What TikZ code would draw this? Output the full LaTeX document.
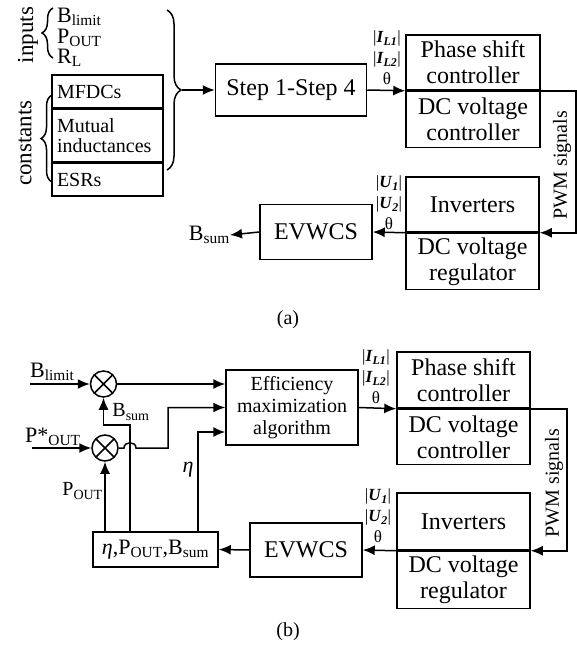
\documentclass[tikz,border=0pt]{standalone}
\usepackage{fontspec}
\setmainfont{Liberation Serif}
\usetikzlibrary{arrows.meta, decorations.pathreplacing, positioning, calc}
\newcommand{\magI}[1]{|\textbf{\textit{I}\textsubscript{\textit{#1}}}|}
\newcommand{\magU}[1]{|\textbf{\textit{U}\textsubscript{\textit{#1}}}|}
\tikzset{
  % blocchi
  blk/.style={draw,line width=1.5pt,inner sep=0pt,align=center,font=\fontsize{24}{26}\selectfont},
  cblk/.style={draw,line width=1.5pt,minimum width=111pt,text width=101pt,align=left,
    inner xsep=5pt,inner ysep=0pt,font=\fontsize{20}{20}\selectfont},
  mixer/.style={circle,draw,line width=1.5pt,minimum size=26pt,inner sep=0pt,
    path picture={\draw[line width=1.5pt] (path picture bounding box.north west) -- (path picture bounding box.south east)
      (path picture bounding box.north east) -- (path picture bounding box.south west);}},
  % etichette
  lbl/.style={inner sep=0pt,font=\fontsize{22}{24}\selectfont},
  slbl/.style={inner sep=0pt,align=center,font=\fontsize{17}{21}\selectfont},
  % connessioni
  conn/.style={line width=1.5pt,-{Latex[length=12pt,width=10pt]}},
  midline/.style={line width=3pt},
  bracket/.style={line width=1.5pt,decorate,decoration={brace,amplitude=#1}}
}
\begin{document}
\begin{tikzpicture}[x=1pt,y=-1pt]
  \useasboundingbox (0,0) rectangle (576,648);
  % ---------- (a) ----------
  \node[lbl,font=\fontsize{23}{24}\selectfont,rotate=90] (inp) at (28,35) {inputs};
  \node[lbl,font=\fontsize{23}{24}\selectfont,rotate=90] (cst) at (25,143) {constants};
  \draw[bracket=11pt] (53,58) -- (53,8);
  \draw[bracket=11pt] (52,182) -- (52,95);
  \node[lbl,anchor=base west] (blima) at (57,22) {B\textsubscript{limit}};
  \node[lbl,anchor=base west] (pouta) at (57,43) {P\textsubscript{OUT}};
  \node[lbl,anchor=base west] (rla) at (57,63) {R\textsubscript{L}};
  \node[cblk,minimum height=33pt] (mfdc) at (107.5,91.5) {MFDCs};
  \node[cblk,minimum height=52pt,below=0pt of mfdc] (mutual) {Mutual\\inductances};
  \node[cblk,minimum height=33pt,below=0pt of mutual] (esr) {ESRs};
  \draw[bracket=14pt] (167,10) -- (167,170);
  \coordinate (btip) at (182,90);
  \node[blk,minimum width=151pt,minimum height=52pt] (step) at (291,90) {Step 1-Step 4};
  \node[blk,minimum width=134pt,minimum height=55pt] (psa) at (473,62.5) {Phase shift\\controller};
  \node[blk,minimum width=134pt,minimum height=56pt,below=0pt of psa] (dca) {DC voltage\\controller};
  \draw[midline] (psa.south west) -- (psa.south east);
  \node[blk,minimum width=133pt,minimum height=55pt] (inva) at (472.5,204.5) {Inverters};
  \node[blk,minimum width=133pt,minimum height=56pt,below=0pt of inva] (dcra) {DC voltage\\regulator};
  \draw[midline] (inva.south west) -- (inva.south east);
  \node[blk,minimum width=112pt,minimum height=55pt] (evwa) at (316,232) {EVWCS};
  \node[lbl,anchor=east] (bsuma) at (230,235) {B\textsubscript{sum}};
  \node[slbl] (ila) at (387,58) {\magI{L1}\\\magI{L2}\\θ};
  \node[slbl] (ula) at (389,203) {\magU{1}\\\magU{2}\\θ};
  \node[lbl,font=\fontsize{20}{22}\selectfont,rotate=90] (pwma) at (562,165) {PWM signals};
  \draw[conn] (btip) -- (step.west);
  \draw[conn] (step.east) -- (psa.south west);
  \draw[conn] (psa.south east) -- ++(35,0) |- (inva.south east);
  \draw[conn] (inva.south west) -- (evwa.east);
  \draw[conn] (evwa.west) -- (bsuma.east);
  \node[font=\fontsize{20}{22}\selectfont] (capa) at (288,320) {(a)};
  % ---------- (b) ----------
  \node[mixer] (mx1) at (103.5,384) {};
  \node[mixer] (mx2) at (105,448) {};
  \node[lbl,anchor=base west] (blimb) at (30,377) {B\textsubscript{limit}};
  \node[lbl,anchor=base west] (pstar) at (25,442) {P*\textsubscript{OUT}};
  \coordinate (blin) at (30,384);
  \coordinate (pin) at (32,448);
  \node[blk,minimum width=132pt,minimum height=75pt,font=\fontsize{20}{22}\selectfont] (ema) at (292,407.5)
    {Efficiency\\maximization\\algorithm};
  \node[blk,minimum width=125pt,minimum height=35pt,font=\fontsize{22}{24}\selectfont] (ebox) at (155.5,549.5)
    {\textit{η},P\textsubscript{OUT},B\textsubscript{sum}};
  \coordinate (pout) at (105,532);
  \coordinate (bsout) at (130,532);
  \coordinate (etaout) at (198,532);
  \node[lbl,font=\fontsize{20}{22}\selectfont,anchor=east] (poutl) at (103,491) {P\textsubscript{OUT}};
  \node[lbl,font=\fontsize{20}{22}\selectfont] (bsumb) at (131,412) {B\textsubscript{sum}};
  \node[lbl] (etal) at (188,470) {\textit{η}};
  \node[blk,minimum width=133pt,minimum height=56pt] (psb) at (463.5,380) {Phase shift\\controller};
  \node[blk,minimum width=133pt,minimum height=55pt,below=0pt of psb] (dcb) {DC voltage\\controller};
  \draw[midline] (psb.south west) -- (psb.south east);
  \node[blk,minimum width=133pt,minimum height=57pt] (invb) at (463.5,521.5) {Inverters};
  \node[blk,minimum width=133pt,minimum height=57pt,below=0pt of invb] (dcrb) {DC voltage\\regulator};
  \draw[midline] (invb.south west) -- (invb.south east);
  \node[blk,minimum width=112pt,minimum height=54pt] (evwb) at (306,550) {EVWCS};
  \node[slbl] (ilb) at (376,377) {\magI{L1}\\\magI{L2}\\θ};
  \node[slbl] (ulb) at (378,516) {\magU{1}\\\magU{2}\\θ};
  \node[lbl,font=\fontsize{20}{22}\selectfont,rotate=90] (pwmb) at (554,483) {PWM signals};
  \draw[conn] (blin) -- (mx1.west);
  \draw[conn] (pin) -- (mx2.west);
  \draw[conn] (mx1.east) -- (mx1.east -| ema.west);
  \draw[conn] (mx2.east) -- (124,448) .. controls (124,441) and (136,441) .. (136,448) -- (168,448) |- (ema.west);
  \draw[conn] (etaout) |- ([yshift=-24.5pt]ema.west);
  \draw[conn] (pout) -- (mx2.south);
  \draw[conn] (bsout) -- (130,425) -| (mx1.south);
  \draw[conn] (ema.east) -- (psb.south west);
  \draw[conn] (psb.south east) -- ++(36,0) |- (invb.south east);
  \draw[conn] (invb.south west) -- (evwb.east);
  \draw[conn] (evwb.west) -- (ebox.east);
  \node[font=\fontsize{20}{22}\selectfont] (capb) at (288,632) {(b)};
\end{tikzpicture}
\end{document}
